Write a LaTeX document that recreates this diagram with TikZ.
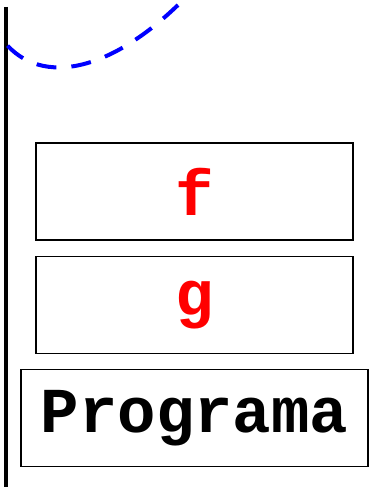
\documentclass[tikz,border=0pt]{standalone}
\usepackage{fontspec}
\setmonofont{Liberation Mono}
\usetikzlibrary{positioning}

\begin{document}
\begin{tikzpicture}[x=1pt,y=-1pt,node distance=15pt,
  frame/.style={draw,line width=1.3pt,minimum height=97pt,inner sep=0pt,font=\fontsize{64}{64}\selectfont\ttfamily\bfseries},
  fun/.style={frame,minimum width=317pt,text=red}]
  \useasboundingbox (0,0) rectangle (379,487);
  \node[fun] (f) at (194.5,191.5) {f};
  \node[fun,below=of f] (g) {g};
  \node[frame,minimum width=347pt,below=of g] (prog) {Programa};
  \draw[line width=4pt] (6,7) -- (6,487);
  \draw[blue,line width=4pt,dash pattern=on 20pt off 15pt] (178,5) .. controls (100,80) and (30,85) .. (-2,33);
\end{tikzpicture}
\end{document}
